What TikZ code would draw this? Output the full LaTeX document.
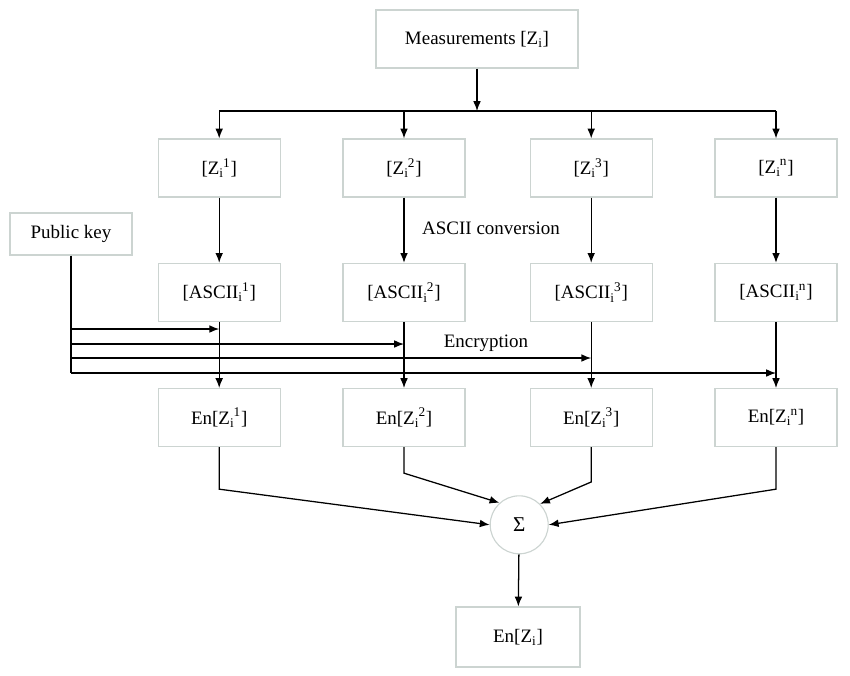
\documentclass[tikz,border=0pt]{standalone}
\usepackage{fontspec}
\setmainfont{Liberation Serif}
\usepackage{tikz}
\usetikzlibrary{arrows.meta,positioning,calc}
\definecolor{boxgray}{RGB}{204,212,209}
\newcommand{\sub}[2]{\textsubscript{#1}\kern-0.5pt\textsuperscript{#2}}
\tikzset{
  blk/.style={draw=boxgray, line width=0.8pt, fill=white, font=\fontsize{13.5}{15}\selectfont,
              minimum width=3.05cm, minimum height=1.45cm, inner sep=2pt},
  sumc/.style={draw=boxgray, line width=0.8pt, circle, fill=white,
               font=\fontsize{15}{17}\selectfont, minimum size=1.45cm, inner sep=0pt},
  lbl/.style={font=\fontsize{13.5}{15}\selectfont},
  arr/.style={-{Latex[length=7pt,width=5.5pt]}, line width=0.9pt},
  ln/.style={line width=0.9pt},
}

\begin{document}
\begin{tikzpicture}
\useasboundingbox (0,0) rectangle (21.25,-16.875);

% --- Input ---
\node[blk, minimum width=5.05cm] (meas) at (11.925,-0.975) {Measurements [Z\textsubscript{i}]};
\node[blk, minimum height=1.05cm] (pk) at (1.775,-5.85) {Public key};

% --- Split measurements ---
\node[blk] (z1) at (5.48,-4.2) {[Z\sub{i}{1}]};
\node[blk] (z2) at (10.1,-4.2) {[Z\sub{i}{2}]};
\node[blk] (z3) at (14.78,-4.2) {[Z\sub{i}{3}]};
\node[blk] (zn) at (19.4,-4.2) {[Z\sub{i}{n}]};

% --- ASCII ---
\node[blk] (a1) at (5.48,-7.31) {[ASCII\sub{i}{1}]};
\node[blk] (a2) at (10.1,-7.31) {[ASCII\sub{i}{2}]};
\node[blk] (a3) at (14.78,-7.31) {[ASCII\sub{i}{3}]};
\node[blk] (an) at (19.4,-7.31) {[ASCII\sub{i}{n}]};
\node[lbl] (conv) at (12.275,-5.7) {ASCII conversion};

% --- Encrypted ---
\node[blk] (e1) at (5.48,-10.44) {En[Z\sub{i}{1}]};
\node[blk] (e2) at (10.1,-10.44) {En[Z\sub{i}{2}]};
\node[blk] (e3) at (14.78,-10.44) {En[Z\sub{i}{3}]};
\node[blk] (en) at (19.4,-10.44) {En[Z\sub{i}{n}]};
\node[lbl] (enc) at (12.15,-8.57) {Encryption};

% --- Sum and output ---
\node[sumc] (sum) at (12.98,-13.12) {Σ};
\node[blk, minimum width=3.1cm, minimum height=1.5cm] (out) at (12.95,-15.925) {En[Z\textsubscript{i}]};

% branch line
\coordinate (br) at (11.925,-2.775);
\draw[arr] (meas) -- (br);
\draw[ln] (z1 |- br) -- (zn |- br);
\draw[arr] (z1 |- br) -- (z1);
\draw[arr] (z2 |- br) -- (z2);
\draw[arr] (z3 |- br) -- (z3);
\draw[arr] (zn |- br) -- (zn);

% ascii conversion
\draw[arr] (z1) -- (a1);
\draw[arr] (z2) -- (a2);
\draw[arr] (z3) -- (a3);
\draw[arr] (zn) -- (an);

% key lines
\coordinate (k1) at (1.775,-8.225);
\coordinate (k2) at (1.775,-8.6);
\coordinate (k3) at (1.775,-8.95);
\coordinate (k4) at (1.775,-9.325);
\draw[ln] (pk) -- (k4);
\draw[arr] (k1) -- (k1 -| a1);
\draw[arr] (k2) -- (k2 -| a2);
\draw[arr] (k3) -- (k3 -| a3);
\draw[arr] (k4) -- (k4 -| an);

% encryption
\draw[arr] (a1) -- (e1);
\draw[arr] (a2) -- (e2);
\draw[arr] (a3) -- (e3);
\draw[arr] (an) -- (en);

% to sum
\draw[arr] (e1) -- ($(e1.south)+(0,-1.05)$) -- (sum.west);
\draw[arr] (e2) -- ($(e2.south)+(0,-0.65)$) -- (sum.132);
\draw[arr] (e3) -- ($(e3.south)+(0,-0.87)$) -- (sum.45);
\draw[arr] (en) -- ($(en.south)+(0,-1.05)$) -- (sum.east);
\draw[arr] (sum) -- (out);

\end{tikzpicture}
\end{document}
